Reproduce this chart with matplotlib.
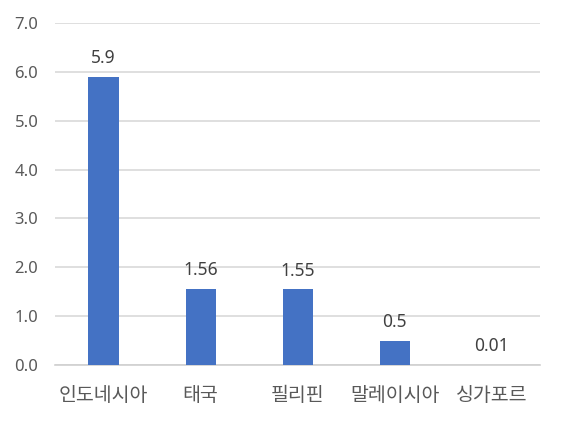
import matplotlib
matplotlib.use("Agg")
import matplotlib.pyplot as plt

categories = ["인도네시아", "태국", "필리핀", "말레이시아", "싱가포르"]
values = [5.9, 1.56, 1.55, 0.5, 0.01]
labels = ["5.9", "1.56", "1.55", "0.5", "0.01"]
yticks = [0, 1, 2, 3, 4, 5, 6, 7]

plt.rcParams['font.family'] = ['Noto Sans', 'Noto Sans CJK KR', 'DejaVu Sans']

fig = plt.figure(figsize=(5.62, 4.23), dpi=100)
ax = fig.add_axes([0.0979, 0.1366, 0.961 - 0.0979, 0.946 - 0.1366])

x = list(range(len(categories)))
ax.bar(x, values, width=0.31, color="#4472C4", zorder=3)
for xi, v, lab in zip(x, values, labels):
    ax.annotate(lab, (xi, v), xytext=(0, 10), textcoords="offset points",
                ha="center", va="baseline", fontsize=12.5, color="#404040")

ax.set_xlim(-0.5, len(categories) - 0.5)
ax.set_ylim(0, 7)
ax.set_yticks(yticks)
ax.set_yticklabels([f"{t:.1f}" for t in yticks])
ax.set_xticks(x)
ax.set_xticklabels(categories, family=['Noto Sans CJK KR', 'DejaVu Sans'], fontsize=14)
ax.tick_params(axis="both", length=0, colors="#595959")
ax.tick_params(axis="y", pad=12, labelsize=12)
ax.tick_params(axis="x", pad=14)
ax.grid(axis="y", color="#D9D9D9", linewidth=1.2, zorder=0)
for s in ["top", "right", "left"]:
    ax.spines[s].set_visible(False)
ax.spines["bottom"].set_color("#D0D0D0")
ax.spines["bottom"].set_linewidth(1.2)

fig.savefig("out.png", dpi=100)
